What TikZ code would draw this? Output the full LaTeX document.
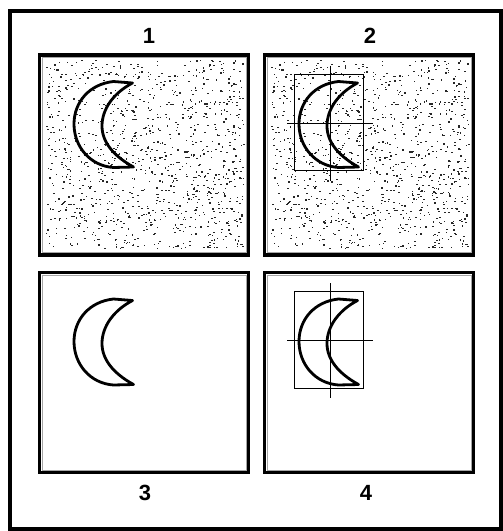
\documentclass[tikz,border=0pt]{standalone}
\usepackage{fontspec}
\setmainfont{Liberation Sans}
\begin{document}
\begin{tikzpicture}[x=1pt,y=-1pt,
  frame/.style={line width=3.5pt},
  panelbox/.style={line width=3.2pt},
  panelinner/.style={line width=0.7pt,draw=black!35},
  moon/.style={line width=2.8pt,line join=round},
  guide/.style={line width=1pt},
  digit/.style={font=\fontsize{22}{22}\selectfont\bfseries,inner sep=0pt}]
\useasboundingbox (0,0) rectangle (503,531);
\fill[white] (0,0) rectangle (503,531);
\draw[frame] (10,11) rectangle (501,529);
% panel drawing macros
\newcommand\mypanel{%
  \draw[panelbox] (0,0) rectangle (209,200);
  \draw[panelinner] (2.5,2.5) rectangle (206.5,197.5);}
\newcommand\mynoise{%
  \pgfmathsetseed{4711}%
  \foreach \i in {1,...,1100}{%
    \pgfmathsetmacro\nx{6+198*rnd}%
    \pgfmathsetmacro\ny{5+188*rnd}%
    \pgfmathsetmacro\nw{0.9+1.3*rnd}%
    \pgfmathsetmacro\nh{0.9+0.6*rnd}%
    \fill[black!85] (\nx,\ny) rectangle ++(\nw,\nh);
  }}
\newcommand\mymoon{%
  \draw[moon] (93,28) -- (74,26.5)
    .. controls (50,29) and (34.5,47) .. (34.5,69)
    .. controls (34.5,92) and (51,111) .. (74,112.5)
    -- (94,112)
    .. controls (74,101) and (62.5,87) .. (62.5,71)
    .. controls (62.5,54) and (74,38) .. (93,28) -- cycle;}
\newcommand\myguides{%
  \draw[guide] (29.5,19) rectangle (98.5,115.5);
  \draw[guide] (65.5,10.5) -- (65.5,125.5);
  \draw[guide] (22.5,68) -- (108,68);}
% panel 1
\begin{scope}[shift={(39.5,55)}]
  \mynoise
  \mymoon
  \mypanel
\end{scope}
% panel 2
\begin{scope}[shift={(264.5,55)}]
  \mynoise
  \mymoon
  \myguides
  \mypanel
\end{scope}
% panel 3
\begin{scope}[shift={(39.5,272.5)}]
  \mymoon
  \mypanel
\end{scope}
% panel 4
\begin{scope}[shift={(264.5,272.5)}]
  \mymoon
  \myguides
  \mypanel
\end{scope}
\node[digit] (n1) at (149,35.5) {1};
\node[digit] (n2) at (370,35.5) {2};
\node[digit] (n3) at (145,493) {3};
\node[digit] (n4) at (366,493) {4};
\end{tikzpicture}
\end{document}
